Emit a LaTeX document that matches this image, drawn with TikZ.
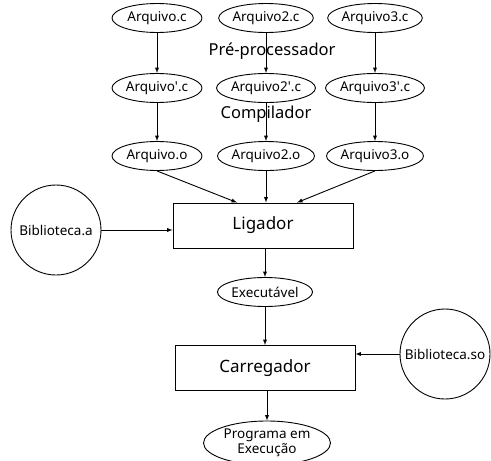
\documentclass[tikz,border=0pt]{standalone}
\usepackage{fontspec}
\setmainfont{Noto Sans}
\usetikzlibrary{shapes.geometric,calc}
\tikzset{
  arq/.style={
      draw,
      ellipse,
      inner sep=0pt,
      minimum width=90pt,
      minimum height=29pt,
      font=\fontsize{13.5}{15}\selectfont
  },
  etapa/.style={
      draw,
      rectangle,
      minimum width=180pt,
      minimum height=45pt,
      font=\fontsize{17}{19}\selectfont
  },
  bib/.style={
      draw,
      circle,
      inner sep=0pt,
      minimum size=90pt,
      font=\fontsize{13.5}{15}\selectfont
  },
  rotulo/.style={font=\fontsize{16.5}{18}\selectfont}
}
\begin{document}
\begin{tikzpicture}[x=1pt,y=-1pt,line width=0.9pt,>=latex]
	\useasboundingbox (0,0) rectangle (491,461);
	% fontes
	\node[arq] (c1) at (157,18) {Arquivo.c};
	\node[arq] (c2) at (266,18) {Arquivo2.c};
	\node[arq] (c3) at (375,18) {Arquivo3.c};
	\node[arq] (p1) at (157,88) {Arquivo\textquotesingle.c};
	\node[arq] (p2) at (266,88) {Arquivo2\textquotesingle.c};
	\node[arq] (p3) at (375,88) {Arquivo3\textquotesingle.c};
	\node[arq] (o1) at (157,156) {Arquivo.o};
	\node[arq] (o2) at (266,156) {Arquivo2.o};
	\node[arq] (o3) at (375,156) {Arquivo3.o};
	\foreach \i in {1,2,3}{
		\draw[->] (c\i) -- (p\i);
		\draw[->] (p\i) -- (o\i);
	}
	\node[rotulo] (pre) at (272,51) {Pré-processador};
	\node[rotulo] (comp) at (266,114) {Compilador};
	% ligacao
	\node[etapa] (lig) at (263,225.5) {Ligador};
	\node[bib] (biba) at (56,230) {Biblioteca.a};
	\draw[->] (o1.south) -- ($(lig.north)+(-26,0)$);
	\draw[->] (o2.south) -- (o2.south |- lig.north);
	\draw[->] (o3.south) -- ($(lig.north)+(34,0)$);
	\draw[->] (biba.east) -- (biba.east -| lig.west);
	\node[arq] (exe) at (265,292) {Executável};
	\draw[->] (lig.south -| exe.north) -- (exe.north);
	% carga
	\node[etapa] (car) at (265,368) {Carregador};
	\node[bib] (bibso) at (445,354) {Biblioteca.so};
	\draw[->] (exe.south) -- (exe.south |- car.north);
	\draw[->] (bibso.west) -- (bibso.west -| car.east);
	\node[arq,minimum width=127pt,minimum height=44pt,align=center] (prog) at (267,443) {Programa em\\Execução};
	\draw[->] (car.south -| prog.north) -- (prog.north);
\end{tikzpicture}
\end{document}
